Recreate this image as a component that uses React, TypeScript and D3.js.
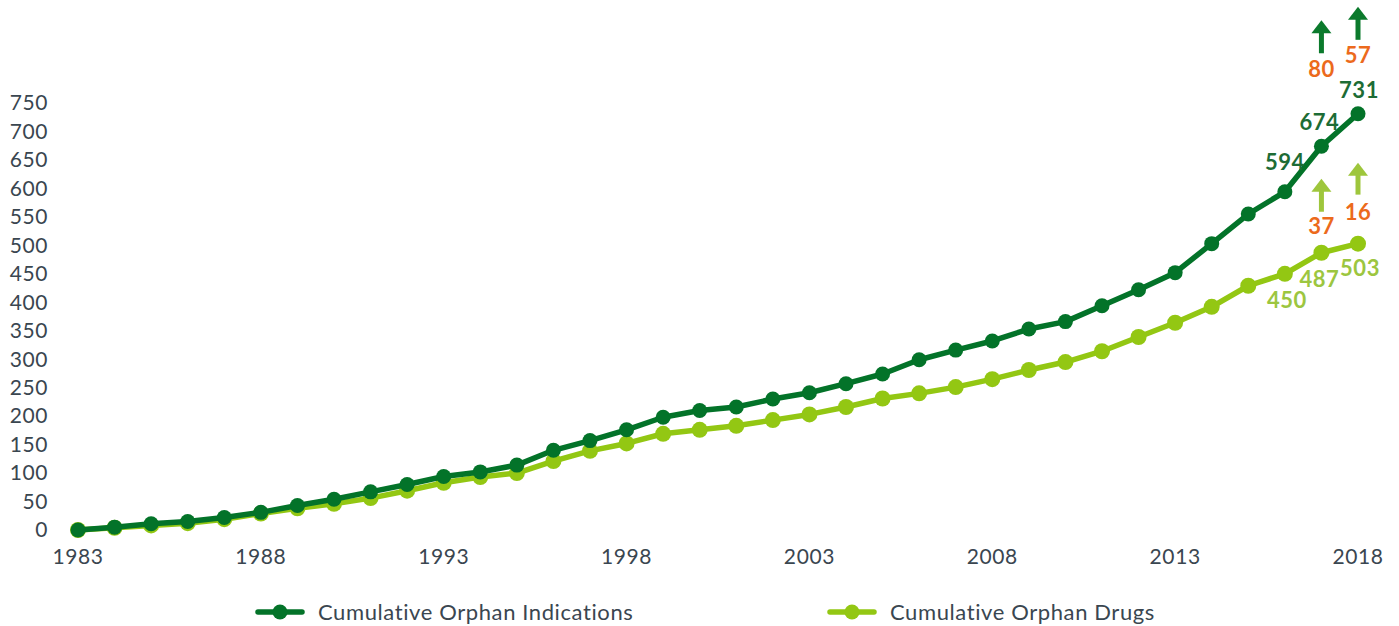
import React from "react";
import * as d3 from "d3";

const years: number[] = d3.range(1983, 2019);
const indications: number[] = [0, 5, 11, 15, 22, 31, 43, 54, 67, 80, 94, 102, 114, 140, 157, 176, 198, 210, 216, 230, 241, 257, 274, 299, 316, 332, 353, 366, 394, 422, 452, 503, 555, 594, 674, 731];
const drugs: number[] = [0, 4, 8, 12, 19, 29, 38, 46, 56, 69, 83, 93, 100, 121, 139, 152, 169, 176, 183, 193, 203, 216, 231, 240, 251, 265, 281, 295, 314, 339, 364, 392, 429, 450, 487, 503];
const yTicks: number[] = d3.range(0, 751, 50);
const xTicks: number[] = [1983, 1988, 1993, 1998, 2003, 2008, 2013, 2018];
const labelYears: number[] = [2016, 2017, 2018];
const incYears: number[] = [2017, 2018];
const indicationIncrements: number[] = [80, 57];
const drugIncrements: number[] = [37, 16];
const seriesNames: string[] = ["Cumulative Orphan Indications", "Cumulative Orphan Drugs"];

const W = 1399, H = 626;
const DARK = "#037329";
const LIGHT = "#93c713";
const DARK_LBL = "#1d6c35";
const LIGHT_LBL = "#9cc640";
const ORANGE = "#ec6a1c";
const DARK_ARROW = "#0b7a2c";
const LIGHT_ARROW = "#9ec63c";
const AXIS = "#3a4650";
const FONT = "Lato, 'Open Sans', sans-serif";

// layout offsets (pixels relative to data points)
const darkLabelDy = [-30, -24, -24];
const darkLabelDx = [0, -2, 1];
const lightLabelDy = [26, 27, 25];
const lightLabelDx = [2, -2, 2];
const darkIncDy = [-77, -59];
const darkArrow = [[-93, -126], [-74, -107]];
const lightIncDy = [-26, -31];
const lightArrow = [[-41, -74], [-49, -81]];

function Arrow({ x, y1, y2, color }: { x: number; y1: number; y2: number; color: string }) {
  const head = 13;
  return (
    <g>
      <line x1={x} x2={x} y1={y1} y2={y2 + head - 1} stroke={color} strokeWidth={5} />
      <path d={`M${x - 10},${y2 + head} L${x},${y2} L${x + 10},${y2 + head} Z`} fill={color} />
    </g>
  );
}

export default function App() {
  const x = d3.scaleLinear().domain([1983, 2018]).range([78, 1358]);
  const y = d3.scaleLinear().domain([0, 750]).range([530, 103]);
  const line = d3.line<number>().x((_, i) => x(years[i])).y((d) => y(d));

  const series = [
    { vals: indications, color: DARK, r: 7.5 },
    { vals: drugs, color: LIGHT, r: 8 },
  ];
  const idx = (yr: number) => years.indexOf(yr);

  return (
    <svg width={W} height={H} style={{ position: "absolute", left: 0, top: 0, display: "block" }} fontFamily={FONT}>
      <rect width={W} height={H} fill="#fff" />
      {yTicks.map((t) => (
        <text key={t} x={48} y={y(t)} dy="0.35em" textAnchor="end" fontSize={21} letterSpacing={0.6} fill={AXIS}>{t}</text>
      ))}
      {xTicks.map((t) => (
        <text key={t} x={x(t)} y={564} textAnchor="middle" fontSize={21} letterSpacing={0.6} fill={AXIS}>{t}</text>
      ))}
      {series.slice().reverse().map((s, k) => (
        <g key={k}>
          <path d={line(s.vals) || ""} fill="none" stroke={s.color} strokeWidth={5.5} strokeLinejoin="round" />
          {s.vals.map((v, i) => (
            <circle key={i} cx={x(years[i])} cy={y(v)} r={s.r} fill={s.color} />
          ))}
        </g>
      ))}
      {labelYears.map((yr, j) => (
        <g key={yr}>
          <text x={x(yr) + darkLabelDx[j]} y={y(indications[idx(yr)]) + darkLabelDy[j]} dy="0.35em" textAnchor="middle" fontSize={22} fontWeight={700} letterSpacing={0.5} fill={DARK_LBL}>{indications[idx(yr)]}</text>
          <text x={x(yr) + lightLabelDx[j]} y={y(drugs[idx(yr)]) + lightLabelDy[j]} dy="0.35em" textAnchor="middle" fontSize={22} fontWeight={700} letterSpacing={0.5} fill={LIGHT_LBL}>{drugs[idx(yr)]}</text>
        </g>
      ))}
      {incYears.map((yr, j) => {
        const px = x(yr);
        const dy = y(indications[idx(yr)]);
        const ly = y(drugs[idx(yr)]);
        return (
          <g key={yr}>
            <Arrow x={px} y1={dy + darkArrow[j][0]} y2={dy + darkArrow[j][1]} color={DARK_ARROW} />
            <text x={px} y={dy + darkIncDy[j]} dy="0.35em" textAnchor="middle" fontSize={22} fontWeight={700} letterSpacing={0.5} fill={ORANGE}>{indicationIncrements[j]}</text>
            <Arrow x={px} y1={ly + lightArrow[j][0]} y2={ly + lightArrow[j][1]} color={LIGHT_ARROW} />
            <text x={px} y={ly + lightIncDy[j]} dy="0.35em" textAnchor="middle" fontSize={22} fontWeight={700} letterSpacing={0.5} fill={ORANGE}>{drugIncrements[j]}</text>
          </g>
        );
      })}
      {seriesNames.map((name, k) => {
        const lx = k === 0 ? 258 : 830;
        const col = k === 0 ? DARK : LIGHT;
        return (
          <g key={name}>
            <line x1={lx} x2={lx + 44} y1={612} y2={612} stroke={col} strokeWidth={5.5} strokeLinecap="round" />
            <circle cx={lx + 22} cy={612} r={7.5} fill={col} />
            <text x={lx + 60} y={612} dy="0.35em" fontSize={22} letterSpacing={0.6} fill={AXIS}>{name}</text>
          </g>
        );
      })}
    </svg>
  );
}
